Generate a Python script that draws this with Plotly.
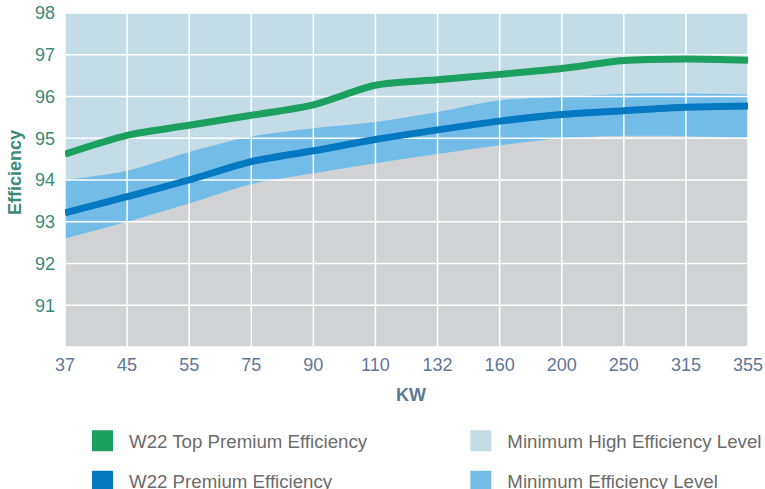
import plotly.graph_objects as go

# ---- data ----
kw = ["37", "45", "55", "75", "90", "110", "132", "160", "200", "250", "315", "355"]
top_premium = [94.62, 95.07, 95.31, 95.55, 95.80, 96.27, 96.40, 96.53, 96.67, 96.86, 96.90, 96.87]
premium = [93.21, 93.60, 94.00, 94.44, 94.70, 94.97, 95.20, 95.41, 95.57, 95.66, 95.74, 95.77]
min_eff_low = [92.60, 93.00, 93.44, 93.90, 94.16, 94.40, 94.62, 94.83, 95.00, 95.06, 95.05, 95.02]
min_eff_high = [94.00, 94.22, 94.67, 95.04, 95.24, 95.39, 95.63, 95.91, 95.99, 96.06, 96.07, 96.05]
y_ticks = [91, 92, 93, 94, 95, 96, 97, 98]
y_min, y_max = 90, 98

C_TOP = "#1ca05f"
C_PREM = "#0479c2"
C_HIGH = "#c4dce6"
C_MIN = "#73bce8"
C_GREY = "#d1d2d4"
C_YTXT = "#3b8a78"
C_XTXT = "#5f7797"

fig = go.Figure()

# grey area below the minimum efficiency band
fig.add_trace(go.Scatter(x=kw, y=min_eff_low, mode="lines", line=dict(width=0, shape="spline", smoothing=0.8),
                         fill="tozeroy", fillcolor=C_GREY, showlegend=False, hoverinfo="skip"))
# minimum efficiency band
fig.add_trace(go.Scatter(x=kw, y=min_eff_high, mode="lines", line=dict(width=0, shape="spline", smoothing=0.8),
                         fill="tonexty", fillcolor=C_MIN, showlegend=False, hoverinfo="skip"))

# white grid drawn above the filled areas
gx, gy = [], []
for c in kw:
    gx += [c, c, None]
    gy += [y_min, y_max, None]
for v in [y_min] + y_ticks:
    gx += [kw[0], kw[-1], None]
    gy += [v, v, None]
fig.add_trace(go.Scatter(x=gx, y=gy, mode="lines", line=dict(color="white", width=1.5),
                         connectgaps=False, showlegend=False, hoverinfo="skip"))

# efficiency curves
fig.add_trace(go.Scatter(x=kw, y=top_premium, mode="lines", name="W22 Top Premium Efficiency",
                         line=dict(color=C_TOP, width=7, shape="spline", smoothing=0.8), showlegend=False))
fig.add_trace(go.Scatter(x=kw, y=premium, mode="lines", name="W22 Premium Efficiency",
                         line=dict(color=C_PREM, width=7, shape="spline", smoothing=0.8), showlegend=False))

# legend entries (square swatches)
legend_items = [
    ("W22 Top Premium Efficiency", C_TOP, "legend", "g1"),
    ("W22 Premium Efficiency", C_PREM, "legend", "g2"),
    ("Minimum High Efficiency Level", C_HIGH, "legend2", "g3"),
    ("Minimum Efficiency Level", C_MIN, "legend2", "g4"),
]
for name, col, lg, grp in legend_items:
    fig.add_trace(go.Scatter(x=[kw[0]], y=[y_min - 5], mode="markers", name=name, legend=lg, legendgroup=grp,
                             marker=dict(symbol="square", size=16, color=col, line=dict(color=col, width=5)),
                             hoverinfo="skip"))

legend_common = dict(
    orientation="v", xref="container", yref="container", xanchor="left", yanchor="top",
    font=dict(family="Liberation Sans, Arial, sans-serif", size=18.7, color="#6b6b6b"),
    bgcolor="rgba(0,0,0,0)", tracegroupgap=13, itemwidth=43, itemclick=False, itemdoubleclick=False,
)

fig.update_layout(
    width=765, height=489,
    margin=dict(l=65, r=17, t=13, b=142, autoexpand=False),
    paper_bgcolor="white",
    plot_bgcolor=C_HIGH,
    font=dict(family="Liberation Sans, Arial, sans-serif"),
    xaxis=dict(type="category", categoryorder="array", categoryarray=kw, range=[0, len(kw) - 1],
               showgrid=False, zeroline=False, showline=False, ticks="", tickangle=0, ticklabelstandoff=5,
               tickfont=dict(size=18, color=C_XTXT)),
    yaxis=dict(range=[y_min, y_max], tickvals=y_ticks, ticktext=[str(v) for v in y_ticks],
               showgrid=False, zeroline=False, showline=False, ticks="", ticklabelstandoff=9,
               tickfont=dict(size=18, color=C_YTXT)),
    legend=dict(x=76 / 765, y=0.155 - 9 / 489, **legend_common),
    legend2=dict(x=0.59 + 3 / 765, y=0.155 - 9 / 489, **legend_common),
    annotations=[
        dict(text="<b>Efficiency</b>", xref="paper", yref="paper", x=0, y=0.5, xanchor="center", yanchor="middle",
             textangle=-90, xshift=-50, yshift=7, showarrow=False, font=dict(size=18, color=C_YTXT)),
        dict(text="<b>KW</b>", xref="paper", yref="paper", x=0.5, y=0, xanchor="center", yanchor="middle",
             xshift=4, yshift=-48, showarrow=False, font=dict(size=18, color=C_XTXT)),
    ],
)

fig.write_html("out.html", post_script="document.body.style.margin='0';",
               config={"displayModeBar": False})
